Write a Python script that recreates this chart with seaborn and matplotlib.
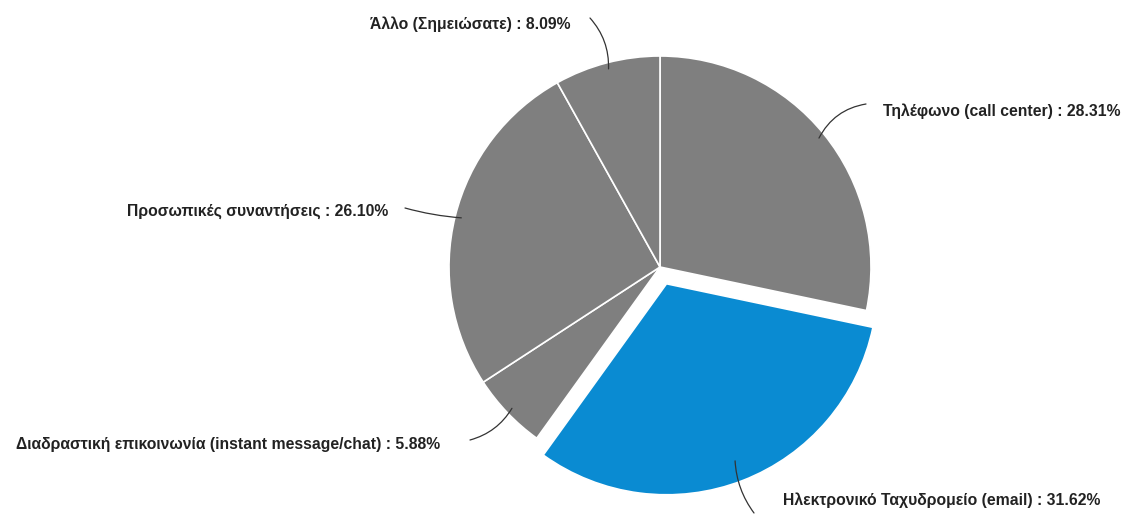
import numpy as np
import matplotlib
matplotlib.use("Agg")
import matplotlib.pyplot as plt
import seaborn as sns

# Contact channel shares (%), clockwise from 12 o'clock
channels = [
    "Τηλέφωνο (call center)",
    "Ηλεκτρονικό Ταχυδρομείο (email)",
    "Διαδραστική επικοινωνία (instant message/chat)",
    "Προσωπικές συναντήσεις",
    "Άλλο (Σημειώσατε)",
]
shares = [28.31, 31.62, 5.88, 26.10, 8.09]
highlight = [False, True, False, False, False]

sns.set_theme(style="white")
plt.rcParams["font.family"] = ["Liberation Sans", "DejaVu Sans"]

gray = "#7f7f7f"
blue = "#0a8bd2"
colors = [blue if h else gray for h in highlight]

W, H = 1126, 517
fig = plt.figure(figsize=(W / 100, H / 100), dpi=100)
ax = fig.add_axes([0, 0, 1, 1])

cx, cy, R = 660, H - 267, 211
wedges, _ = ax.pie(
    shares,
    colors=colors,
    startangle=90,
    counterclock=False,
    explode=[18 if h else 0 for h in highlight],  # offset in axes data units
    radius=R,
    center=(cx, cy),
    frame=True,
    wedgeprops=dict(edgecolor="white", linewidth=1.2),
)
ax.set_xlim(0, W)
ax.set_ylim(0, H)
ax.set_aspect("equal")
ax.axis("off")

# label text anchor (pixel coords, y from top), alignment, leader start, curvature, leader depth
layout = [
    ((883, 111), "left", (866, 104), 0.25, 0.97),
    ((783, 500), "left", (754, 513), -0.15, 0.9),
    ((440, 444), "right", (470, 440), 0.2, 0.97),
    ((388, 211), "right", (405, 208), 0.05, 0.97),
    ((571, 24), "right", (590, 18), -0.2, 0.97),
]

for w, name, val, (txy, ha, lstart, rad, depth) in zip(wedges, channels, shares, layout):
    mid = np.deg2rad((w.theta1 + w.theta2) / 2)
    ex, ey = w.center
    px = ex + w.r * depth * np.cos(mid)
    py = ey + w.r * depth * np.sin(mid)
    ax.text(txy[0], H - txy[1], f"{name} : {val:.2f}%", ha=ha, va="center",
            fontsize=11.3, fontweight="bold", color="#222222")
    ax.annotate("", xy=(px, py), xytext=(lstart[0], H - lstart[1]),
                arrowprops=dict(arrowstyle="-", color="#333333", lw=0.9,
                                connectionstyle=f"arc3,rad={rad}",
                                shrinkA=0, shrinkB=0))

fig.savefig("out.png", dpi=100, facecolor="white")
